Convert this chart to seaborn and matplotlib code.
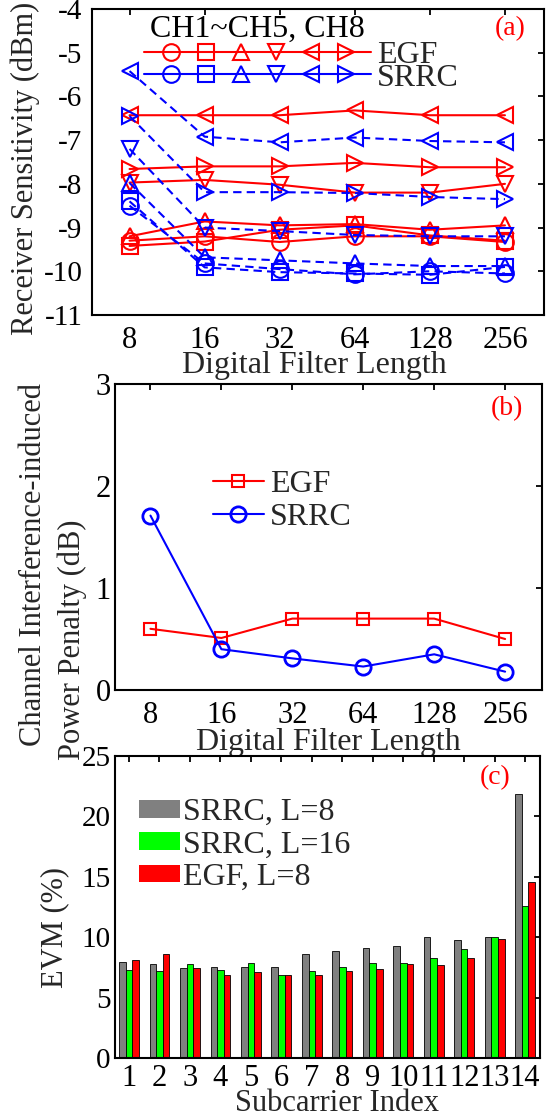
import numpy as np
import pandas as pd
import matplotlib
matplotlib.use("Agg")
import matplotlib.pyplot as plt
from matplotlib.lines import Line2D
from matplotlib.patches import Patch
from matplotlib.legend_handler import HandlerBase
import seaborn as sns

# ---------------- data ----------------
filter_lengths = [8, 16, 32, 64, 128, 256]
channel_markers = ["o", "s", "^", "v", "<", ">"]   # CH1..CH5, CH8

# (a) receiver sensitivity (dBm), one row per channel
egf_sens = [
    [-9.30, -9.20, -9.33, -9.20, -9.20, -9.33],
    [-9.42, -9.32, -9.05, -8.95, -9.18, -9.30],
    [-9.20, -8.86, -8.95, -8.92, -9.05, -8.95],
    [-7.97, -7.91, -8.02, -8.20, -8.20, -8.00],
    [-6.43, -6.43, -6.43, -6.32, -6.43, -6.43],
    [-7.66, -7.60, -7.60, -7.52, -7.62, -7.62],
]
srrc_sens = [
    [-8.50, -9.82, -9.95, -10.07, -10.00, -10.05],
    [-8.40, -9.91, -10.02, -10.05, -10.08, -9.90],
    [-7.98, -9.68, -9.75, -9.82, -9.88, -9.88],
    [-7.20, -9.00, -9.08, -9.17, -9.20, -9.20],
    [-5.42, -6.92, -7.05, -6.94, -7.02, -7.05],
    [-6.45, -8.19, -8.19, -8.21, -8.30, -8.35],
]

# (b) channel interference-induced power penalty (dB)
egf_penalty = [0.60, 0.51, 0.70, 0.70, 0.70, 0.50]
srrc_penalty = [1.71, 0.40, 0.31, 0.23, 0.35, 0.18]

# (c) EVM per subcarrier (%)
subcarriers = list(range(1, 15))
evm_srrc_l8 = [7.93, 7.79, 7.46, 7.57, 7.57, 7.57, 8.65, 8.84, 9.11, 9.28, 10.0, 9.75, 10.05, 21.82]
evm_srrc_l16 = [7.32, 7.18, 7.79, 7.32, 7.84, 6.91, 7.21, 7.57, 7.84, 7.90, 8.26, 9.03, 10.0, 12.62]
evm_egf_l8 = [8.12, 8.59, 7.46, 6.91, 7.13, 6.85, 6.91, 7.18, 7.37, 7.79, 7.71, 8.26, 9.81, 14.53]
evm_series = ["SRRC, L=8", "SRRC, L=16", "EGF, L=8"]
evm_colors = ["#808080", "#00ff00", "#ff0000"]

# ---------------- style ----------------
sns.set_theme(style="white")
plt.rcParams["font.family"] = ["Liberation Serif", "DejaVu Serif"]
plt.rcParams["axes.linewidth"] = 1.5
plt.rcParams["axes.edgecolor"] = "black"

RED = "#ff0000"
BLUE = "#0000ff"
TICK_FS = 21
LABEL_FS = 22
LEG_FS = 23
MS_A = 12

fig = plt.figure(figsize=(5.59, 11.17), dpi=100)
W, H = 559, 1117


def px_axes(left, right, top, bottom):
    return fig.add_axes([left / W, 1 - bottom / H, (right - left) / W, (bottom - top) / H])


ax_a = px_axes(92, 544, 9, 315)
ax_b = px_axes(115, 542, 384, 690)
ax_c = px_axes(115, 540, 756, 1058)


def style_ticks(ax, xpad, ypad, xfs=TICK_FS, yfs=TICK_FS):
    ax.tick_params(axis="both", direction="in", top=True, right=True,
                   length=4, width=1.3, colors="black")
    ax.tick_params(axis="x", pad=xpad, labelsize=xfs)
    ax.tick_params(axis="y", pad=ypad, labelsize=yfs)
    for sp in ax.spines.values():
        sp.set_linewidth(1.5)
        sp.set_color("black")


class MultiMarkerHandler(HandlerBase):
    """Legend key: one line carrying every channel marker."""

    def __init__(self, markers, ms, mew, **kw):
        super().__init__(**kw)
        self.markers = markers
        self.ms = ms
        self.mew = mew

    def create_artists(self, legend, orig_handle, xdescent, ydescent,
                       width, height, fontsize, trans):
        y = height / 2 - ydescent
        color = orig_handle.get_color()
        arts = [Line2D([-xdescent, width - xdescent], [y, y], color=color,
                       lw=orig_handle.get_linewidth())]
        xs = np.linspace(0.12, 0.89, len(self.markers)) * width - xdescent
        for xm, m in zip(xs, self.markers):
            arts.append(Line2D([xm], [y], linestyle="none", marker=m, markersize=self.ms,
                               markerfacecolor="none", markeredgecolor=color,
                               markeredgewidth=self.mew))
        for a in arts:
            a.set_transform(trans)
        return arts


# ---------------- (a) receiver sensitivity ----------------
pos = np.arange(len(filter_lengths))
for ys, m in zip(egf_sens, channel_markers):
    sns.lineplot(x=pos, y=ys, ax=ax_a, color=RED, marker=m, markersize=MS_A,
                 markerfacecolor="none", markeredgecolor=RED, markeredgewidth=1.5,
                 linewidth=1.5, linestyle="-")
for ys, m in zip(srrc_sens, channel_markers):
    sns.lineplot(x=pos, y=ys, ax=ax_a, color=BLUE, marker=m, markersize=MS_A,
                 markerfacecolor="none", markeredgecolor=BLUE, markeredgewidth=1.5,
                 linewidth=1.5, linestyle=(0, (4, 2.5)))

ax_a.set_xlim(-0.5, 5.52)
ax_a.set_ylim(-11, -4)
ax_a.set_yticks(np.arange(-11, -3, 1))
ax_a.set_yticklabels([str(v) for v in range(-11, -3)])
ax_a.set_xticks(pos)
ax_a.set_xticklabels([str(v) for v in filter_lengths])
style_ticks(ax_a, xpad=8, ypad=7, xfs=22, yfs=21)
ax_a.set_xlabel("Digital Filter Length", fontsize=LABEL_FS + 1)
ax_a.set_ylabel("Receiver Sensitivity (dBm)", fontsize=LABEL_FS)
ax_a.xaxis.set_label_coords(0.493, -0.166)
ax_a.xaxis.label.set_va("center")
ax_a.yaxis.set_label_coords(-0.148, 0.48)
ax_a.yaxis.label.set_va("center")

ax_a.text(0.128, 0.935, "CH1~CH5, CH8", transform=ax_a.transAxes, fontsize=LEG_FS,
          ha="left", va="center", color="black")
ax_a.text(0.96, 0.935, "(a)", transform=ax_a.transAxes, fontsize=20,
          ha="right", va="center", color=RED)

h_egf = Line2D([], [], color=RED, lw=1.5)
h_srrc = Line2D([], [], color=BLUE, lw=1.5)
ax_a.legend([h_egf, h_srrc], ["EGF", "SRRC"],
            handler_map={h_egf: MultiMarkerHandler(channel_markers, MS_A, 1.5),
                         h_srrc: MultiMarkerHandler(channel_markers, MS_A, 1.5)},
            loc="upper left", bbox_to_anchor=(0.115, 0.895), borderaxespad=0,
            borderpad=0, frameon=False, fontsize=LEG_FS, handlelength=7.1,
            handletextpad=0.2, labelspacing=-0.23)

# ---------------- (b) power penalty ----------------
sns.lineplot(x=pos, y=egf_penalty, ax=ax_b, color=RED, marker="s", markersize=9,
             markerfacecolor="none", markeredgecolor=RED, markeredgewidth=1.5,
             linewidth=1.5, label="EGF")
sns.lineplot(x=pos, y=srrc_penalty, ax=ax_b, color=BLUE, marker="o", markersize=11,
             markerfacecolor="none", markeredgecolor=BLUE, markeredgewidth=2,
             linewidth=1.5, label="SRRC")
ax_b.set_xlim(-0.5, 5.52)
ax_b.set_ylim(0, 3)
ax_b.set_yticks([0, 1, 2, 3])
ax_b.set_yticklabels(["0", "1", "2", "3"])
ax_b.set_xticks(pos)
ax_b.set_xticklabels([str(v) for v in filter_lengths])
style_ticks(ax_b, xpad=8, ypad=3, xfs=22, yfs=22)
ax_b.set_xlabel("Digital Filter Length", fontsize=LABEL_FS + 1)
ax_b.xaxis.set_label_coords(0.5, -0.17)
ax_b.xaxis.label.set_va("center")
ax_b.set_ylabel("Channel Interference-induced", fontsize=LABEL_FS)
ax_b.yaxis.set_label_coords(-0.192, 0.41)
ax_b.yaxis.label.set_va("center")
ax_b.text(-0.101, 0.165, "Power Penalty (dB)", transform=ax_b.transAxes,
          fontsize=LABEL_FS, rotation=90, ha="center", va="center")
ax_b.text(0.955, 0.92, "(b)", transform=ax_b.transAxes, fontsize=20,
          ha="right", va="center", color=RED)
ax_b.legend(loc="upper left", bbox_to_anchor=(0.229, 0.72), borderaxespad=0,
            borderpad=0, frameon=False, fontsize=LEG_FS, handlelength=1.6,
            handletextpad=0.2, labelspacing=0.12)

# ---------------- (c) EVM ----------------
evm_df = pd.DataFrame({
    "Subcarrier": np.tile(subcarriers, 3),
    "EVM": evm_srrc_l8 + evm_srrc_l16 + evm_egf_l8,
    "Filter": np.repeat(evm_series, len(subcarriers)),
})
sns.barplot(data=evm_df, x="Subcarrier", y="EVM", hue="Filter", hue_order=evm_series,
            palette=evm_colors, ax=ax_c, width=0.65, gap=0, saturation=1,
            edgecolor="black", linewidth=0.6, legend=False)
ax_c.set_xlim(-0.46, 13.49)
ax_c.set_ylim(0, 25)
ax_c.set_yticks([0, 5, 10, 15, 20, 25])
ax_c.set_yticklabels(["0", "5", "10", "15", "20", "25"])
ax_c.set_xticks(np.arange(len(subcarriers)))
ax_c.set_xticklabels([str(s) for s in subcarriers])
style_ticks(ax_c, xpad=4, ypad=3, xfs=22, yfs=21)
ax_c.set_xlabel("Subcarrier Index", fontsize=LABEL_FS)
ax_c.xaxis.set_label_coords(0.522, -0.15)
ax_c.xaxis.label.set_va("center")
ax_c.set_ylabel("EVM (%)", fontsize=LABEL_FS)
ax_c.yaxis.set_label_coords(-0.141, 0.433)
ax_c.yaxis.label.set_va("center")
ax_c.text(0.93, 0.93, "(c)", transform=ax_c.transAxes, fontsize=20,
          ha="right", va="center", color=RED)
evm_handles = [Patch(facecolor=c, edgecolor="none") for c in evm_colors]
ax_c.legend(evm_handles, evm_series, loc="upper left", bbox_to_anchor=(0.056, 0.86),
            borderaxespad=0, borderpad=0, frameon=False, fontsize=LEG_FS,
            handlelength=1.28, handleheight=0.47, handletextpad=0.1, labelspacing=0.1)

fig.savefig("out.png", dpi=100)
